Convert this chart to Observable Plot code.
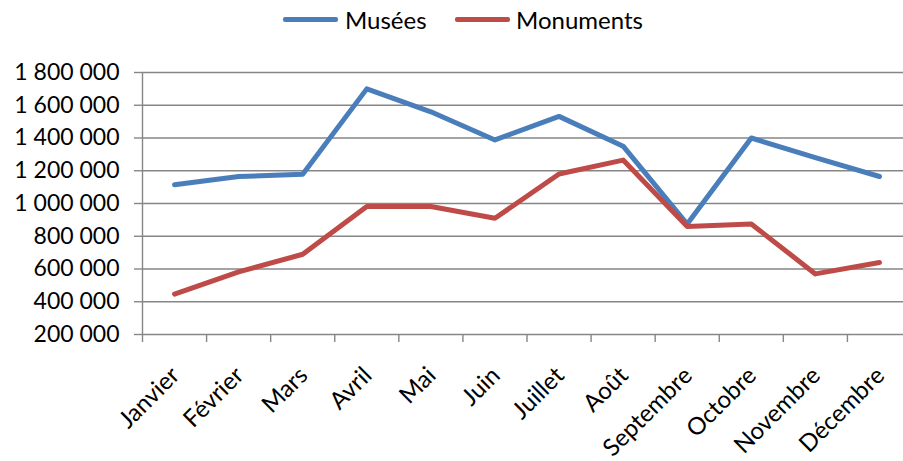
<!DOCTYPE html>
<html>
<head>
<meta charset="utf-8">
<script src="https://cdn.jsdelivr.net/npm/d3@7"></script>
<script src="https://cdn.jsdelivr.net/npm/@observablehq/plot@0.6"></script>
<style>
  html, body { margin: 0; padding: 0; background: #fff; }
  #legend { position: relative; height: 40px; width: 903px; font-family: Lato, "Liberation Sans", sans-serif; font-size: 24px; color: #000; }
  .sw { position: absolute; top: 17px; width: 55px; height: 5px; border-radius: 2px; }
  .lb { position: absolute; top: 6px; line-height: 28px; }
</style>
</head>
<body>
<div id="legend"></div>
<div id="chart"></div>
<script>
const months = ["Janvier","Février","Mars","Avril","Mai","Juin","Juillet","Août","Septembre","Octobre","Novembre","Décembre"];
const musees = [1115000, 1165000, 1178000, 1700000, 1560000, 1388000, 1532000, 1350000, 875000, 1400000, 1280000, 1165000];
const monuments = [447000, 582000, 690000, 982000, 982000, 910000, 1180000, 1265000, 860000, 875000, 570000, 640000];
const yTicks = [200000, 400000, 600000, 800000, 1000000, 1200000, 1400000, 1600000, 1800000];
const seriesNames = ["Musées", "Monuments"];
const colors = ["#4A7EBB", "#BE4B48"];

const fmt = d3.formatLocale({decimal: ",", thousands: " ", grouping: [3]}).format(",");
const table = months.map((m, i) => ({i: i + 0.5, month: m, musees: musees[i], monuments: monuments[i]}));

// legend
const legend = document.getElementById("legend");
const legendPos = [[283, 345], [455, 516]];
seriesNames.forEach((name, k) => {
  const sw = document.createElement("div");
  sw.className = "sw"; sw.style.left = legendPos[k][0] + "px"; sw.style.background = colors[k];
  const lb = document.createElement("div");
  lb.className = "lb"; lb.style.left = legendPos[k][1] + "px"; lb.textContent = name;
  legend.append(sw, lb);
});

const grid = "#868686";
const chart = Plot.plot({
  width: 903,
  height: 421,
  marginLeft: 142,
  marginRight: 0,
  marginTop: 32,
  marginBottom: 127,
  style: {fontFamily: "Lato, 'Liberation Sans', sans-serif", fontSize: "23px", color: "#000", background: "#fff"},
  x: {domain: [0, 12], range: [142, 911]},
  y: {domain: [200000, 1800000]},
  marks: [
    Plot.ruleY(yTicks, {stroke: grid, strokeWidth: 1.4}),
    Plot.ruleX([0], {stroke: grid, strokeWidth: 1.4}),
    Plot.axisX({ticks: d3.range(0, 13), tickFormat: () => "", tickSize: 8, stroke: grid, strokeWidth: 1.4, label: null}),
    Plot.axisY({ticks: yTicks, tickFormat: fmt, tickSize: 8, tickPadding: 15, stroke: grid, strokeWidth: 1.4, fill: "#000", label: null, fontSize: 23}),
    Plot.text(table, {x: "i", text: "month", frameAnchor: "bottom", dx: 1, dy: 37, rotate: -45, textAnchor: "end", lineAnchor: "middle", fill: "#000", fontSize: 24}),
    Plot.line(table, {x: "i", y: "musees", stroke: colors[0], strokeWidth: 5, strokeLinejoin: "round", strokeLinecap: "round"}),
    Plot.line(table, {x: "i", y: "monuments", stroke: colors[1], strokeWidth: 5, strokeLinejoin: "round", strokeLinecap: "round"})
  ]
});
document.getElementById("chart").append(chart);
</script>
</body>
</html>
